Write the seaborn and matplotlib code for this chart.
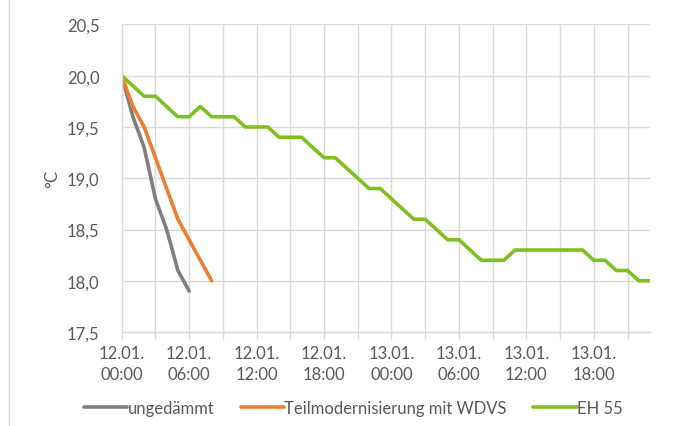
import matplotlib
matplotlib.use("Agg")
import matplotlib.pyplot as plt
import matplotlib.dates as mdates
from matplotlib.lines import Line2D
import seaborn as sns
import pandas as pd

# Auskühlung nach Heizungsausfall, stündliche Werte ab 12.01. 00:00
start = pd.Timestamp("2021-01-12 00:00")

ungedaemmt = [20.0, 19.6, 19.3, 18.8, 18.5, 18.1, 17.9]
teilmodernisierung = [20.0, 19.7, 19.5, 19.2, 18.9, 18.6, 18.4, 18.2, 18.0]
eh55 = [20.0, 19.9, 19.8, 19.8, 19.7, 19.6, 19.6, 19.7, 19.6, 19.6,
        19.6, 19.5, 19.5, 19.5, 19.4, 19.4, 19.4, 19.3, 19.2, 19.2,
        19.1, 19.0, 18.9, 18.9, 18.8, 18.7, 18.6, 18.6, 18.5, 18.4,
        18.4, 18.3, 18.2, 18.2, 18.2, 18.3, 18.3, 18.3, 18.3, 18.3,
        18.3, 18.3, 18.2, 18.2, 18.1, 18.1, 18.0, 18.0]

serien = ["ungedämmt", "Teilmodernisierung mit WDVS", "EH 55"]
farben = ["#7F7F7F", "#ED7D31", "#80C01E"]
y_ticks = [17.5, 18.0, 18.5, 19.0, 19.5, 20.0, 20.5]


def build_frame():
    rows = []
    for name, werte in zip(serien, [ungedaemmt, teilmodernisierung, eh55]):
        for h, t in enumerate(werte):
            rows.append({"zeit": start + pd.Timedelta(hours=h), "temp": t, "variante": name})
    return pd.DataFrame(rows)


df = build_frame()

sns.set_theme(style="whitegrid")
plt.rcParams["font.family"] = ["Lato", "DejaVu Sans"]
text_color = "#595959"
grid_color = "#D9D9D9"
fs = 12

fig = plt.figure(figsize=(6.86, 4.27), dpi=100)
ax = fig.add_axes([0.1774, 0.2201, 0.7701, 0.7202])

sns.lineplot(
    data=df,
    x="zeit",
    y="temp",
    hue="variante",
    hue_order=serien,
    palette=dict(zip(serien, farben)),
    linewidth=2.6,
    ax=ax,
)
handles, labels = ax.get_legend_handles_labels()
ax.get_legend().remove()

ax.set_xlim(start, start + pd.Timedelta(hours=47))
ax.set_ylim(y_ticks[0], y_ticks[-1])
ax.set_yticks(y_ticks)
ax.set_yticklabels([f"{v:.1f}".replace(".", ",") for v in y_ticks])

ax.xaxis.set_major_locator(mdates.HourLocator(byhour=[0, 6, 12, 18]))
ax.xaxis.set_minor_locator(mdates.HourLocator(byhour=[3, 9, 15, 21]))
ax.xaxis.set_major_formatter(mdates.DateFormatter("%d.%m.\n%H:%M"))

ax.grid(True, which="both", axis="x", color=grid_color, linewidth=1)
ax.grid(True, which="major", axis="y", color=grid_color, linewidth=1)
ax.set_axisbelow(True)

for side in ["top", "right"]:
    ax.spines[side].set_visible(False)
for side in ["left", "bottom"]:
    ax.spines[side].set_color(grid_color)
    ax.spines[side].set_linewidth(1)

ax.tick_params(axis="x", which="both", length=5, width=1, color=grid_color,
               direction="out", bottom=True, pad=4, labelsize=fs, labelcolor=text_color)
ax.tick_params(axis="y", length=0, pad=16, labelsize=fs, labelcolor=text_color)
for lab in ax.get_xticklabels():
    lab.set_linespacing(1.4)

ax.set_xlabel("")
ax.set_ylabel("°C", fontsize=fs, color=text_color, labelpad=5)

fig.legend(
    handles,
    labels,
    loc="center",
    bbox_to_anchor=(0.515, 0.042),
    ncol=3,
    frameon=False,
    handlelength=2.6,
    handletextpad=0.0,
    columnspacing=1.6,
    fontsize=fs,
    labelcolor=text_color,
)

# linker Rahmen des Diagrammbereichs
fig.add_artist(Line2D([9 / 686, 9 / 686], [0, 1], color=grid_color, lw=1,
                      transform=fig.transFigure))

fig.savefig("out.png", dpi=100)
